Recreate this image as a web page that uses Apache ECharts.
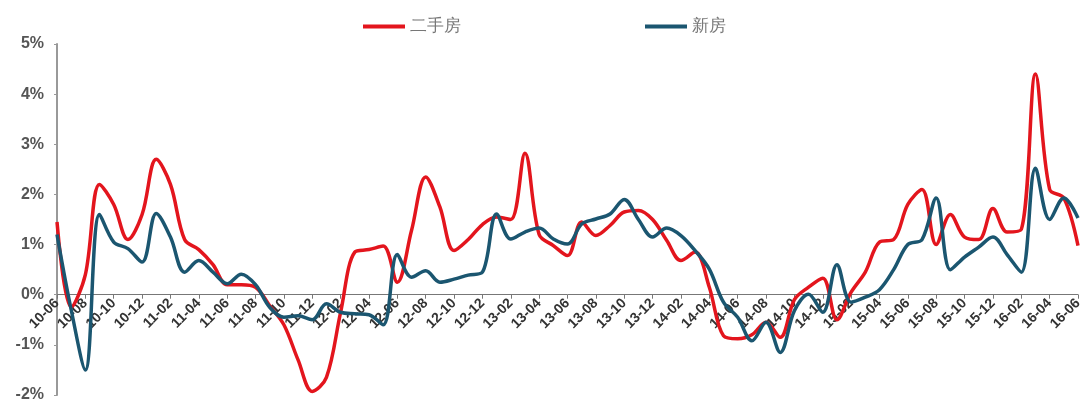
<!DOCTYPE html>
<html>
<head>
<meta charset="utf-8"/>
<title>二手房 / 新房</title>
<script src="https://cdn.jsdelivr.net/npm/echarts@6/dist/echarts.min.js"></script>
<style>
  html, body { margin: 0; padding: 0; background: #fff; }
  #main { width: 1083px; height: 401px; }
</style>
</head>
<body>
<div id="main"></div>
<script>
// 月份 10-06 ~ 16-06
var months = [];
for (var y = 10; y <= 16; y++) {
  for (var m = 1; m <= 12; m++) {
    if ((y === 10 && m < 6) || (y === 16 && m > 6)) continue;
    months.push(y + '-' + (m < 10 ? '0' + m : m));
  }
}

var yTicks = [-2, -1, 0, 1, 2, 3, 4, 5];

// 二手房 (%)
var usedHouse = [
  1.45, -0.25, 0.4, 2.2, 1.8, 1.1, 1.6, 2.7, 2.2, 1.1, 0.9, 0.6,
  0.2, 0.2, 0.15, -0.22, -0.6, -1.3, -1.93, -1.65, -0.35, 0.85, 0.9, 0.97,
  0.25, 1.28, 2.35, 1.75, 0.88, 1.1, 1.4, 1.55, 1.5, 2.82, 1.2, 0.98,
  0.78, 1.45, 1.18, 1.38, 1.65, 1.68, 1.5, 1.08, 0.68, 0.85, 0.15, -0.82,
  -0.88, -0.8, -0.55, -0.85, -0.1, 0.15, 0.33, -0.5, 0.05, 0.45, 1.05, 1.1,
  1.8, 2.1, 1.0, 1.6, 1.15, 1.1, 1.72, 1.25, 1.3, 4.4, 2.1, 1.93,
  0.98
];

// 新房 (%)
var newHouse = [
  1.2, -0.3, -1.5, 1.6, 1.05, 0.92, 0.65, 1.62, 1.15, 0.45, 0.68, 0.45,
  0.22, 0.41, 0.2, -0.25, -0.45, -0.42, -0.5, -0.18, -0.35, -0.38, -0.4, -0.6,
  0.8, 0.35, 0.48, 0.25, 0.31, 0.39, 0.45, 1.61, 1.11, 1.25, 1.33, 1.11,
  1.01, 1.41, 1.51, 1.61, 1.9, 1.5, 1.15, 1.33, 1.18, 0.88, 0.51, -0.15,
  -0.45, -0.92, -0.55, -1.15, -0.32, 0.01, -0.35, 0.6, -0.15, -0.05, 0.1, 0.5,
  1.0, 1.1, 1.93, 0.5, 0.75, 0.95, 1.15, 0.8, 0.45, 2.52, 1.5, 1.93,
  1.53
];

var myChart = echarts.init(document.getElementById('main'));
var font = '"Liberation Sans", Arial, sans-serif';

var option = {
  backgroundColor: '#fff',
  animation: false,
  legend: {
    top: 13,
    left: 358,
    itemWidth: 42,
    itemHeight: 4,
    itemGap: 184,
    icon: 'rect',
    textStyle: { color: '#777', fontSize: 17, fontFamily: font },
    data: ['二手房', '新房']
  },
  grid: { left: 57, right: 5, top: 44, bottom: 6, outerBoundsMode: 'none', containLabel: false },
  xAxis: {
    type: 'category',
    data: months,
    boundaryGap: false,
    axisLine: { onZero: true, lineStyle: { color: '#777', width: 1 } },
    axisTick: { interval: 1, length: 4, lineStyle: { color: '#777' } },
    // 标签随0轴上移
    axisLabel: {
      interval: 1,
      rotate: 45,
      margin: -94,
      color: '#333',
      fontSize: 14,
      fontWeight: 'bold',
      fontFamily: font
    },
    splitLine: { show: false }
  },
  yAxis: {
    type: 'value',
    min: yTicks[0],
    max: yTicks[yTicks.length - 1],
    interval: 1,
    axisLine: { show: true, lineStyle: { color: '#999', width: 2 } },
    axisTick: { show: true, length: 3, lineStyle: { color: '#999' } },
    axisLabel: {
      formatter: function (v) { return v + '%'; },
      color: '#555',
      fontSize: 16,
      fontWeight: 'bold',
      fontFamily: font,
      margin: 13
    },
    splitLine: { show: false }
  },
  series: [
    {
      name: '二手房',
      type: 'line',
      data: usedHouse,
      smooth: 0.35,
      showSymbol: false,
      z: 2,
      lineStyle: { color: '#e3151d', width: 3.5 },
      itemStyle: { color: '#e3151d' }
    },
    {
      name: '新房',
      type: 'line',
      data: newHouse,
      smooth: 0.35,
      showSymbol: false,
      z: 3,
      lineStyle: { color: '#1b5670', width: 3.5 },
      itemStyle: { color: '#1b5670' }
    }
  ]
};

myChart.setOption(option);
</script>
</body>
</html>
